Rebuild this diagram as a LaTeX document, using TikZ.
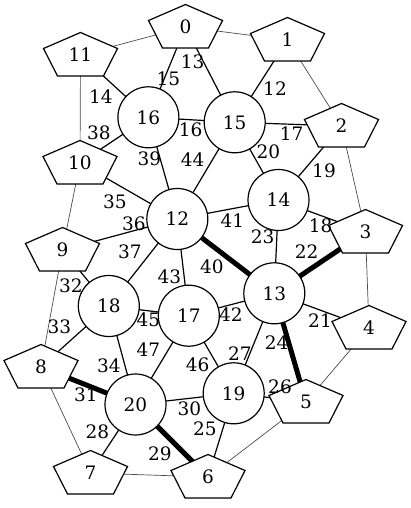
\documentclass[tikz,border=0pt]{standalone}
\usepackage{fontspec}
\setmainfont{DejaVu Serif}
\usetikzlibrary{backgrounds}
\begin{document}
\begin{tikzpicture}[x=1pt,y=-1pt,
  every node/.style={font=\fontsize{18.5}{20}\selectfont},
  cnode/.style={circle,draw,fill=white,line width=1.2pt,minimum size=61pt,inner sep=0pt},
  ptext/.style={inner sep=0pt},
  pentbox/.style={draw,fill=white,line width=1.2pt,line join=miter},
  lab/.style={inner sep=0pt},
  edge/.style={line width=1.2pt},
  thinedge/.style={line width=0.7pt,draw=black!70},
  thickedge/.style={line width=5pt}]
\useasboundingbox (0,0) rectangle (411,508);
\newcommand{\pentnode}[3]{%
  \draw[pentbox,shift={(#2)}] (0,-22.5) -- (37,-6.5) -- (23,21) -- (-23,21) -- (-37,-6.5) -- cycle;
  \node[ptext] (#1) at (#2) {#3};}
% pentagons
\pentnode{n0}{185.5,27}{0}
\pentnode{n1}{287.5,40}{1}
\pentnode{n2}{341.5,126}{2}
\pentnode{n3}{365.5,232}{3}
\pentnode{n4}{369,328}{4}
\pentnode{n5}{306,402}{5}
\pentnode{n6}{208,477}{6}
\pentnode{n7}{90.5,473}{7}
\pentnode{n8}{41,367}{8}
\pentnode{n9}{62.5,250}{9}
\pentnode{n10}{80,163}{10}
\pentnode{n11}{80.5,55}{11}
% circles
\node[cnode] (n12) at (177.3,219) {12};
\node[cnode] (n13) at (274.3,293.3) {13};
\node[cnode] (n14) at (278.5,200) {14};
\node[cnode] (n15) at (234.7,122.3) {15};
\node[cnode] (n16) at (148.4,117.3) {16};
\node[cnode] (n17) at (188.8,315.7) {17};
\node[cnode] (n18) at (108.8,306) {18};
\node[cnode] (n19) at (233.7,393.3) {19};
\node[cnode] (n20) at (135.5,404.5) {20};
% edges
\begin{pgfonlayer}{background}
\foreach \a/\b in {0/16,0/15,1/15,11/16,16/15,16/10,16/12,15/2,15/14,15/12,2/14,10/12,14/3,14/12,14/13,12/9,12/18,12/17,9/18,18/17,18/8,18/20,17/13,17/20,17/19,13/19,13/4,20/7,19/6,19/5,20/19}
  \draw[edge] (n\a.center) -- (n\b.center);
\foreach \a/\b in {3/13,12/13,13/5,8/20,20/6}
  \draw[thickedge] (n\a.center) -- (n\b.center);
\foreach \a/\b in {0/11,0/1,1/2,11/10,2/3,10/9,3/4,9/8,4/5,8/7,5/6,6/7}
  \draw[thinedge] (n\a.center) -- (n\b.center);
\end{pgfonlayer}
% labels
\node[lab] (l13) at (192.7,61.7) {13};
\node[lab] (l15) at (168.3,78.3) {15};
\node[lab] (l14) at (101,96.7) {14};
\node[lab] (l38) at (99,132.7) {38};
\node[lab] (l16) at (190.7,130) {16};
\node[lab] (l39) at (149.3,158.3) {39};
\node[lab] (l44) at (192.7,160) {44};
\node[lab] (l12) at (275,88.3) {12};
\node[lab] (l17) at (291.7,134) {17};
\node[lab] (l20) at (268.3,151.7) {20};
\node[lab] (l19) at (324,171) {19};
\node[lab] (l18) at (320.7,225.7) {18};
\node[lab] (l35) at (115,201.7) {35};
\node[lab] (l36) at (134,224) {36};
\node[lab] (l37) at (130,251.7) {37};
\node[lab] (l32) at (71,286) {32};
\node[lab] (l43) at (169.3,276.7) {43};
\node[lab] (l45) at (148.3,320) {45};
\node[lab] (l33) at (59.3,326.7) {33};
\node[lab] (l41) at (232.5,220.3) {41};
\node[lab] (l23) at (262.7,236.7) {23};
\node[lab] (l22) at (306.7,251.7) {22};
\node[lab] (l40) at (212,266.3) {40};
\node[lab] (l42) at (231,314.2) {42};
\node[lab] (l21) at (320,320.7) {21};
\node[lab] (l47) at (148.3,349.3) {47};
\node[lab] (l46) at (197.7,364.3) {46};
\node[lab] (l27) at (240,353.3) {27};
\node[lab] (l24) at (276.7,342.7) {24};
\node[lab] (l34) at (109,365.5) {34};
\node[lab] (l30) at (189.3,408.3) {30};
\node[lab] (l26) at (280,386.7) {26};
\node[lab] (l31) at (86,395) {31};
\node[lab] (l28) at (97.3,431.7) {28};
\node[lab] (l29) at (160,453.3) {29};
\node[lab] (l25) at (205,429) {25};
\end{tikzpicture}
\end{document}
